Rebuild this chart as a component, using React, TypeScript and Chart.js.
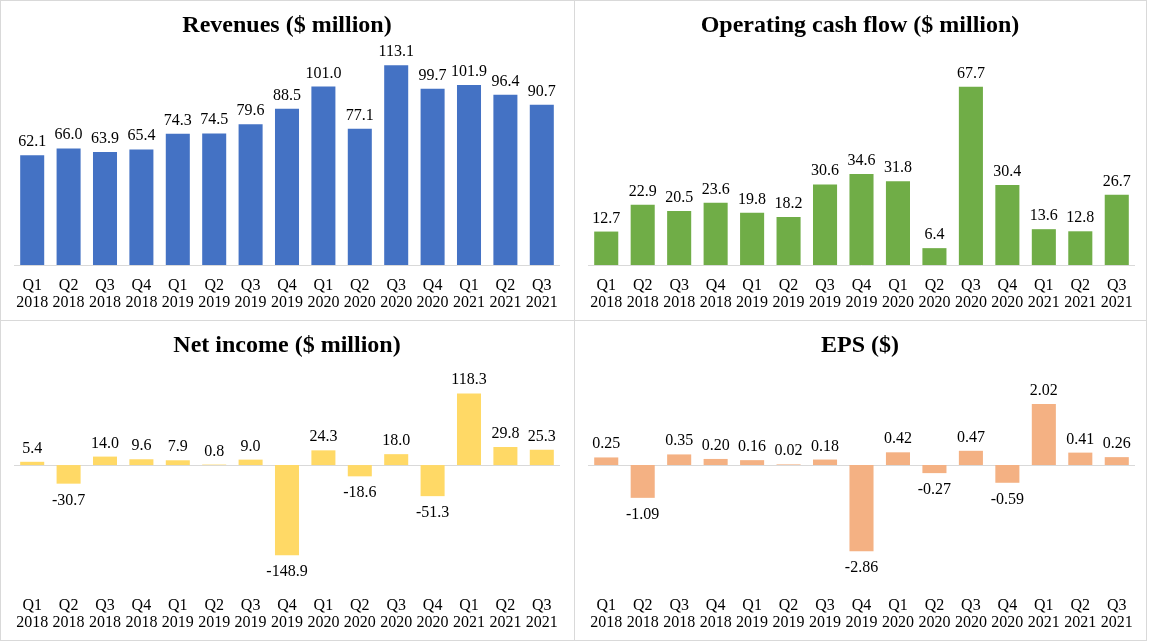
import React, { useEffect, useRef } from "react";
import { Chart, registerables } from "chart.js";

Chart.register(...registerables);

const quarters = ["Q1", "Q2", "Q3", "Q4", "Q1", "Q2", "Q3", "Q4", "Q1", "Q2", "Q3", "Q4", "Q1", "Q2", "Q3"];
const years = ["2018", "2018", "2018", "2018", "2019", "2019", "2019", "2019", "2020", "2020", "2020", "2020", "2021", "2021", "2021"];
const categories = quarters.map((q, i) => [q, years[i]]);

const revenues = [62.1, 66.0, 63.9, 65.4, 74.3, 74.5, 79.6, 88.5, 101.0, 77.1, 113.1, 99.7, 101.9, 96.4, 90.7];
const operatingCashFlow = [12.7, 22.9, 20.5, 23.6, 19.8, 18.2, 30.6, 34.6, 31.8, 6.4, 67.7, 30.4, 13.6, 12.8, 26.7];
const netIncome = [5.4, -30.7, 14.0, 9.6, 7.9, 0.8, 9.0, -148.9, 24.3, -18.6, 18.0, -51.3, 118.3, 29.8, 25.3];
const eps = [0.25, -1.09, 0.35, 0.2, 0.16, 0.02, 0.18, -2.86, 0.42, -0.27, 0.47, -0.59, 2.02, 0.41, 0.26];

const FONT = "'Times New Roman', 'Liberation Serif', serif";
const GRID = "#d9d9d9";

const panelDeco = {
  id: "panelDeco",
  beforeDatasetsDraw(chart: any, _args: any, opts: any) {
    const { ctx, chartArea } = chart;
    const y = Math.round(chart.scales.y.getPixelForValue(0)) + 0.5;
    ctx.save();
    ctx.strokeStyle = GRID;
    ctx.lineWidth = 1;
    ctx.beginPath();
    ctx.moveTo(chartArea.left, y);
    ctx.lineTo(chartArea.right, y);
    ctx.stroke();
    ctx.restore();
  },
  afterDatasetsDraw(chart: any, _args: any, opts: any) {
    const { ctx } = chart;
    const meta = chart.getDatasetMeta(0);
    const values = chart.data.datasets[0].data as number[];
    ctx.save();
    ctx.fillStyle = "#000";
    ctx.font = `16px ${FONT}`;
    ctx.textAlign = "center";
    ctx.textBaseline = "alphabetic";
    meta.data.forEach((el: any, i: number) => {
      const v = values[i];
      const txt = v.toFixed(opts.decimals);
      if (v >= 0) {
        ctx.fillText(txt, el.x, Math.min(el.y, el.base) - 9);
      } else {
        ctx.fillText(txt, el.x, Math.max(el.y, el.base) + 21);
      }
    });
    // title
    ctx.font = `bold 24px ${FONT}`;
    ctx.fillText(opts.title, chart.width / 2, 32);
    ctx.restore();
  },
};

function makeConfig(
  title: string,
  data: number[],
  color: string,
  decimals: number,
  yMin: number,
  yMax: number,
  padRight: number
): any {
  return {
    type: "bar",
    data: {
      labels: categories,
      datasets: [
        {
          data,
          backgroundColor: color,
          barPercentage: 0.66,
          categoryPercentage: 1,
        },
      ],
    },
    options: {
      animation: false,
      responsive: false,
      maintainAspectRatio: false,
      layout: { padding: { left: 14, right: padRight, top: 53, bottom: 0 } },
      plugins: {
        legend: { display: false },
        tooltip: { enabled: false },
        title: { display: false },
        panelDeco: { title, decimals },
      },
      scales: {
        x: {
          grid: { display: false, drawTicks: false },
          border: { display: false },
          ticks: {
            color: "#000",
            font: { family: FONT, size: 16, lineHeight: "17px" },
            padding: 12,
            maxRotation: 0,
            autoSkip: false,
          },
          afterFit: (s: any) => {
            s.height = 55;
          },
        },
        y: { display: false, min: yMin, max: yMax },
      },
    },
    plugins: [panelDeco],
  };
}

function Panel(props: { config: any; left: number; top: number; width: number; height: number }) {
  const ref = useRef<HTMLCanvasElement>(null);
  useEffect(() => {
    if (!ref.current) return;
    const chart = new Chart(ref.current, props.config);
    return () => chart.destroy();
  }, []);
  return (
    <canvas
      ref={ref}
      width={props.width}
      height={props.height}
      style={{
        position: "absolute",
        left: props.left,
        top: props.top,
        width: props.width,
        height: props.height,
      }}
    />
  );
}

const boxStyle = (left: number, top: number, width: number, height: number): React.CSSProperties => ({
  position: "absolute",
  left,
  top,
  width,
  height,
  border: `1px solid ${GRID}`,
  boxSizing: "border-box",
});

export default function App() {
  return (
    <div
      style={{
        position: "absolute",
        left: 0,
        top: 0,
        width: 1149,
        height: 642,
        background: "#fff",
        overflow: "hidden",
      }}
    >
      <div style={boxStyle(0, 0, 575, 321)} />
      <div style={boxStyle(574, 0, 573, 321)} />
      <div style={boxStyle(0, 320, 575, 321)} />
      <div style={boxStyle(574, 320, 573, 321)} />
      <Panel
        config={makeConfig("Revenues ($ million)", revenues, "#4472C4", 1, 0, 120, 14)}
        left={0}
        top={0}
        width={574}
        height={320}
      />
      <Panel
        config={makeConfig("Operating cash flow ($ million)", operatingCashFlow, "#70AD47", 1, 0, 80.5, 11)}
        left={574}
        top={0}
        width={572}
        height={320}
      />
      <Panel
        config={makeConfig("Net income ($ million)", netIncome, "#FFD966", 1, -198, 152, 14)}
        left={0}
        top={320}
        width={574}
        height={320}
      />
      <Panel
        config={makeConfig("EPS ($)", eps, "#F4B183", 2, -3.98, 3.05, 11)}
        left={574}
        top={320}
        width={572}
        height={320}
      />
    </div>
  );
}
